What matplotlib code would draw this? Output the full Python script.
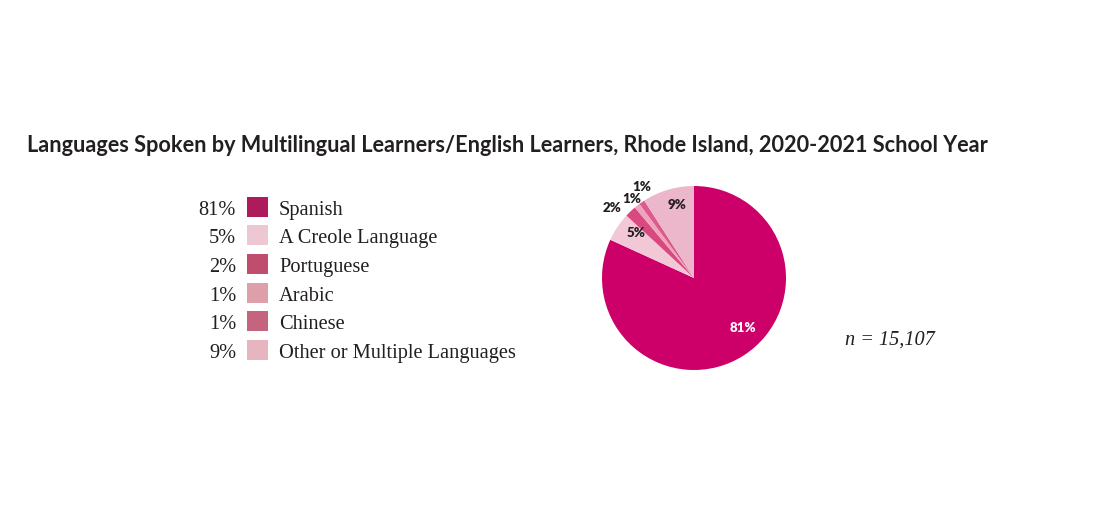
import numpy as np
import matplotlib
matplotlib.use("Agg")
import matplotlib.pyplot as plt
from matplotlib.patches import Rectangle

# dữ liệu
languages = ["Spanish", "A Creole Language", "Portuguese", "Arabic",
             "Chinese", "Other or Multiple Languages"]
shares = [81, 5, 2, 1, 1, 9]
pie_colors = ["#CC0068", "#F2C8D6", "#D9487F", "#EFA3BC", "#DD5A8C", "#EDB7CB"]
legend_colors = ["#AE1A5B", "#EDC8D3", "#BF4E6E", "#DDA0AB", "#C5647E", "#E7B5C0"]

title = ("Languages Spoken by Multilingual Learners/English Learners, "
         "Rhode Island, 2020-2021 School Year")
n_note = "n = 15,107"

W, H = 1094, 528
fig = plt.figure(figsize=(W / 100, H / 100), dpi=100)
fig.patch.set_facecolor("white")

ink = "#231F20"

# tiêu đề
fig.text(27 / W, 1 - 145 / H, title, fontsize=15.55, fontweight="bold",
         family="Lato", color=ink, ha="left", va="center")

# chú giải tự vẽ
row0, step = 206.7, 28.65
for i, (lang, pct, col) in enumerate(zip(languages, shares, legend_colors)):
    yc = row0 + i * step
    fig.text(236 / W, 1 - (yc + 3.5) / H, f"{pct}%", fontsize=14.7,
             family="Liberation Serif", color=ink, ha="right", va="center")
    fig.patches.append(Rectangle((246.5 / W, 1 - (yc + 10) / H), 21.5 / W, 20 / H,
                                 transform=fig.transFigure, facecolor=col,
                                 edgecolor="none"))
    fig.text(279 / W, 1 - (yc + 3.5) / H, lang, fontsize=14.7,
             family="Liberation Serif", color=ink, ha="left", va="center")

# biểu đồ tròn
cx, cy, R = 694, 278, 92
side = 2.5 * R
ax = fig.add_axes([(cx - side / 2) / W, (H - cy - side / 2) / H, side / W, side / H])
wedges, _ = ax.pie(shares, colors=pie_colors, startangle=90, counterclock=False,
                   radius=1.0, wedgeprops=dict(linewidth=0))
ax.set_xlim(-1.25, 1.25)
ax.set_ylim(-1.25, 1.25)
ax.set_aspect("equal")
ax.axis("off")

label_r = [0.76, 0.80, 1.17, 1.09, 1.14, 0.82]
label_shift = [12, -4, 6, 0, -5, -3]
label_col = ["white", ink, ink, ink, ink, ink]
for w, pct, r, sh, c in zip(wedges, shares, label_r, label_shift, label_col):
    ang = np.deg2rad((w.theta1 + w.theta2) / 2 + sh)
    ax.text(r * np.cos(ang), r * np.sin(ang), f"{pct}%", fontsize=9.5,
            fontweight="heavy", family="Lato", color=c, ha="center", va="center")

fig.text(890 / W, 1 - 340 / H, n_note, fontsize=14.6, style="italic",
         family="Liberation Serif", color=ink, ha="center", va="center")

fig.savefig("out.png", dpi=100, facecolor="white")
